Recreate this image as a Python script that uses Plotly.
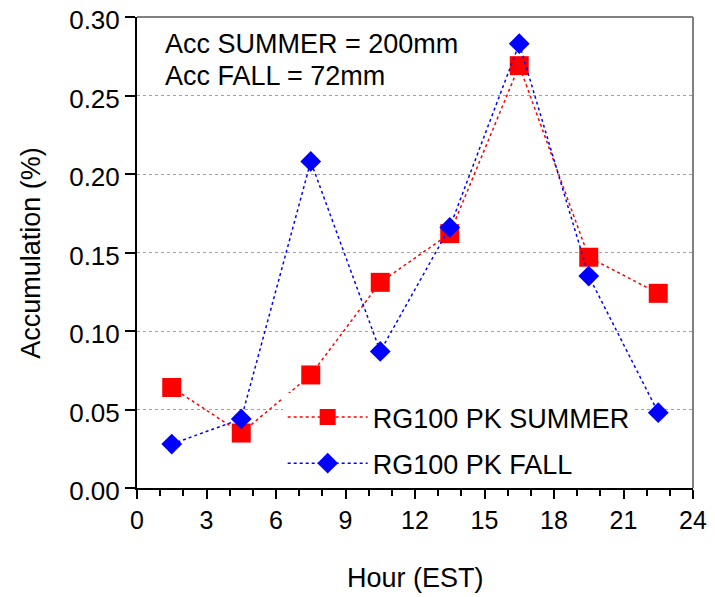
import plotly.graph_objects as go

hours = [1.5, 4.5, 7.5, 10.5, 13.5, 16.5, 19.5, 22.5]
summer = [0.064, 0.035, 0.072, 0.131, 0.162, 0.269, 0.147, 0.124]
fall = [0.028, 0.044, 0.208, 0.087, 0.166, 0.283, 0.135, 0.048]
series_names = ["RG100 PK SUMMER", "RG100 PK FALL"]
notes = ["Acc SUMMER = 200mm", "Acc FALL = 72mm"]
x_title = "Hour (EST)"
y_title = "Accumulation (%)"

FONT = "Liberation Sans, Arial, sans-serif"

fig = go.Figure()
fig.add_trace(go.Scatter(
    x=hours, y=summer, name=series_names[0], mode="lines+markers",
    legendgroup="a",
    line=dict(color="#FF0000", width=1.5, dash="dot"),
    marker=dict(symbol="square", size=19, color="#FF0000"),
))
fig.add_trace(go.Scatter(
    x=hours, y=fall, name=series_names[1], mode="lines+markers",
    legendgroup="b",
    line=dict(color="#0000FF", width=1.5, dash="dot"),
    marker=dict(symbol="diamond", size=16, color="#0000FF"),
))

fig.update_layout(
    width=707, height=589,
    margin=dict(l=129, r=22, t=9, b=109),
    paper_bgcolor="white", plot_bgcolor="white",
    font=dict(family=FONT, size=25, color="black"),
    showlegend=True,
    legend=dict(
        x=0.262, y=0.0, xanchor="left", yanchor="bottom",
        bgcolor="white", borderwidth=0,
        font=dict(size=27), itemwidth=80,
        tracegroupgap=8,
    ),
    xaxis=dict(
        range=[0, 24], tick0=0, dtick=3, showgrid=False, zeroline=False,
        automargin=False, ticklabeloverflow="allow",
        showline=True, linecolor="black", linewidth=2,
        ticks="outside", ticklen=9, tickwidth=2, tickcolor="black",
        minor=dict(dtick=1, ticks="outside", ticklen=6, tickwidth=2, tickcolor="black", showgrid=False),
        tickfont=dict(size=25),
    ),
    yaxis=dict(
        range=[0, 0.30], tick0=0, dtick=0.05, tickformat=".2f",
        automargin=False, ticklabeloverflow="allow", ticklabelshift=3,
        showgrid=True, gridcolor="#A0A0A0", griddash="dot", gridwidth=1,
        zeroline=False, showline=True, linecolor="black", linewidth=2,
        ticks="outside", ticklen=10, tickwidth=2, tickcolor="black",
        tickfont=dict(size=26),
    ),
    shapes=[
        dict(type="line", xref="paper", yref="paper", x0=0, x1=1, y0=1, y1=1,
             line=dict(color="#808080", width=2), layer="above"),
        dict(type="line", xref="paper", yref="paper", x0=1, x1=1, y0=0, y1=1,
             line=dict(color="#808080", width=2), layer="above"),
    ],
    annotations=[
        dict(text=notes[0], xref="paper", yref="paper", x=0.046, y=0.9435,
             xanchor="left", yanchor="middle", showarrow=False, font=dict(size=27)),
        dict(text=notes[1], xref="paper", yref="paper", x=0.046, y=0.8745,
             xanchor="left", yanchor="middle", showarrow=False, font=dict(size=27)),
        dict(text=x_title, xref="paper", yref="paper", x=0.5, y=-0.191,
             xanchor="center", yanchor="middle", showarrow=False, font=dict(size=27)),
        dict(text=y_title, xref="paper", yref="paper", x=-0.192, y=0.5, textangle=-90,
             xanchor="center", yanchor="middle", showarrow=False, font=dict(size=27)),
    ],
)

fig.write_html("out.html")
